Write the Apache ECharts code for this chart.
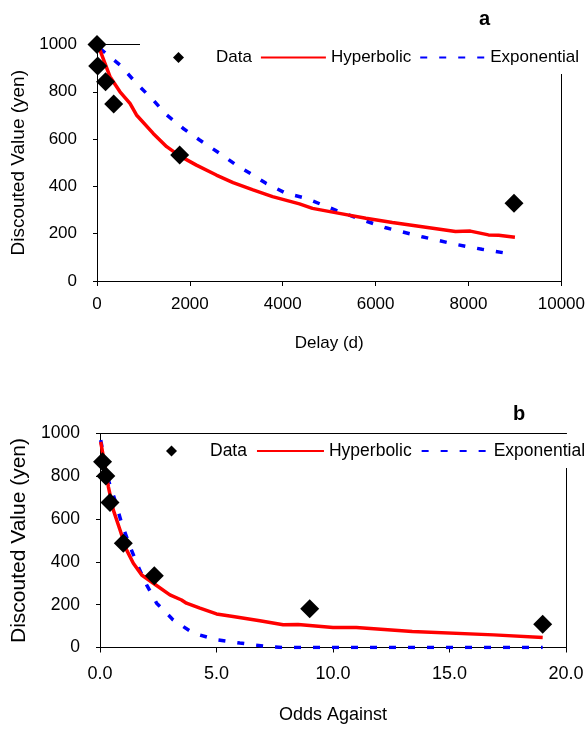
<!DOCTYPE html>
<html>
<head>
<meta charset="utf-8">
<script src="https://cdn.jsdelivr.net/npm/echarts@6/dist/echarts.min.js"></script>
<style>
  html, body { margin: 0; padding: 0; background: #fff; }
  #chart { width: 588px; height: 729px; }
</style>
</head>
<body>
<div id="chart"></div>
<script>
// panel a: delay (days) vs discounted value
const delayDays = [0, 15, 185, 360, 1780, 8980];
const delayValues = [1000, 909, 843, 748, 533, 329];
const delayHypX = [60, 280, 495, 710, 850, 1210, 1500, 1780, 2140, 2570, 2930, 3360, 3780, 4360, 4640, 5220, 5790, 6360, 7080, 7720, 8040, 8430, 8650, 9000];
const delayHypY = [978, 864, 800, 751, 702, 624, 568, 529, 490, 448, 416, 385, 357, 326, 307, 286, 265, 247, 227, 209, 211, 195, 193, 185];
const delayExpX = [60, 495, 850, 1210, 1500, 1850, 2210, 2640, 3000, 3360, 3640, 4070, 4500, 5220, 5720, 6220, 7000, 7720, 8290, 8830];
const delayExpY = [984, 913, 836, 765, 702, 646, 596, 540, 490, 448, 413, 371, 350, 293, 258, 225, 187, 155, 134, 117];

// panel b: odds against vs discounted value
const odds = [0.11, 0.25, 0.43, 1, 2.33, 9, 19];
const oddsValues = [868, 801, 677, 487, 335, 181, 109];
const oddsHypX = [0.03, 0.17, 0.36, 0.57, 0.86, 1.14, 1.43, 1.79, 2.29, 3.0, 3.5, 3.71, 4.29, 5.0, 5.71, 6.86, 7.86, 8.5, 10.0, 11.0, 13.4, 16.9, 19.0];
const oddsHypY = [961, 876, 751, 643, 549, 456, 394, 339, 300, 246, 222, 207, 184, 157, 145, 125, 106, 107, 93, 93, 75, 59, 47];
const oddsExpX = [0.03, 0.17, 0.36, 0.64, 0.93, 1.29, 1.64, 2.0, 2.43, 3.14, 4.0, 5.0, 6.0, 7.14, 7.86, 10, 15, 19.0];
const oddsExpY = [969, 891, 783, 689, 580, 471, 378, 293, 207, 129, 67, 36, 21, 5, 0, 0, 0, 0];

const legendNames = ['Data', 'Hyperbolic', 'Exponential'];
const font = '"Liberation Sans", Arial, sans-serif';

// small diamond centred in a wide empty box so the legend item keeps its full width
function diamondPath(w) {
  const h = w / 2;
  return `path://M-${h},0L-${h},0M${h},0L${h},0M0,-5.5L5.5,0L0,5.5L-5.5,0Z`;
}

const zip = (xs, ys) => xs.map((x, i) => [x, ys[i]]);

function mainXAxis(grid, max, interval, name, nameGap, fontSize, digits) {
  return {
    gridIndex: grid, type: 'value', min: 0, max: max, interval: interval,
    name: name, nameLocation: 'middle', nameGap: nameGap,
    nameTextStyle: { color: '#000', fontFamily: font, fontSize: fontSize },
    axisLine: { onZero: false, lineStyle: { color: '#000', width: 1 } },
    axisTick: { length: 5, lineStyle: { color: '#000' } },
    axisLabel: {
      color: '#000', fontFamily: font, fontSize: fontSize, margin: grid ? 18 : 15,
      formatter: v => v.toFixed(digits)
    },
    splitLine: { show: false }
  };
}

// top / right frame lines, partly hidden by the legend box
function borderAxis(grid, position, max) {
  return {
    gridIndex: grid, type: 'value', position: position, min: 0, max: max,
    axisLine: { show: true, onZero: false, lineStyle: { color: '#000', width: 1 } },
    axisTick: { show: false }, axisLabel: { show: false }, splitLine: { show: false }
  };
}

function mainYAxis(grid, nameSize, labelSize) {
  return {
    gridIndex: grid, type: 'value', min: 0, max: 1000, interval: 200,
    name: 'Discouted Value (yen)', nameLocation: 'middle', nameGap: 68,
    nameTextStyle: { color: '#000', fontFamily: font, fontSize: nameSize },
    axisLine: { show: true, onZero: false, lineStyle: { color: '#000', width: 1 } },
    axisTick: { show: true, length: 4, lineStyle: { color: '#000' } },
    axisLabel: { color: '#000', fontFamily: font, fontSize: labelSize, margin: 20, formatter: v => String(v) },
    splitLine: { show: false }
  };
}

function panelSeries(idx, px, py, hx, hy, ex, ey) {
  return [
    {
      name: 'Data', type: 'scatter', xAxisIndex: idx * 2, yAxisIndex: idx * 2,
      symbol: 'diamond', symbolSize: 19, z: 5,
      itemStyle: { color: '#000', opacity: 1 },
      data: zip(px, py)
    },
    {
      name: 'Hyperbolic', type: 'line', xAxisIndex: idx * 2, yAxisIndex: idx * 2,
      symbol: 'none', z: 3,
      lineStyle: { color: '#ff0000', width: 3.5 },
      itemStyle: { color: '#ff0000' },
      data: zip(hx, hy)
    },
    {
      name: 'Exponential', type: 'line', xAxisIndex: idx * 2, yAxisIndex: idx * 2,
      symbol: 'none', z: 2,
      lineStyle: { color: '#0000ff', width: 3.5, type: [7, 12] },
      itemStyle: { color: '#0000ff' },
      data: zip(ex, ey)
    }
  ];
}

function panelLegend(left, top, itemWidth, itemGap, fontSize) {
  return {
    left: left, top: top, width: 470, orient: 'horizontal',
    padding: [8, 6, 8, 6], backgroundColor: '#fff',
    itemWidth: itemWidth, itemHeight: 11, itemGap: itemGap,
    textStyle: { color: '#000', fontFamily: font, fontSize: fontSize },
    selectedMode: false,
    data: [
      { name: legendNames[0], icon: diamondPath(itemWidth), itemStyle: { color: '#000', opacity: 1 } },
      { name: legendNames[1], itemStyle: { opacity: 0 } },
      { name: legendNames[2], itemStyle: { opacity: 0 } }
    ]
  };
}

const chart = echarts.init(document.getElementById('chart'));

chart.setOption({
  animation: false,
  backgroundColor: '#fff',
  title: [
    { text: 'a', left: 479, top: 9, padding: 0, textStyle: { fontFamily: font, fontSize: 20, fontWeight: 'bold', color: '#000' } },
    { text: 'b', left: 513, top: 404, padding: 0, textStyle: { fontFamily: font, fontSize: 20, fontWeight: 'bold', color: '#000' } }
  ],
  legend: [
    panelLegend(140, 41, 65, 8, 17),
    panelLegend(132, 434, 67, 9, 17.5)
  ],
  grid: [
    { left: 97, top: 44.5, right: 25, bottom: 448 },
    { left: 100, top: 433.5, right: 22, bottom: 81.5 }
  ],
  xAxis: [
    mainXAxis(0, 10000, 2000, 'Delay (d)', 54, 17, 0),
    borderAxis(0, 'top', 10000),
    mainXAxis(1, 20, 5, 'Odds Against', 59, 18, 1),
    borderAxis(1, 'top', 20)
  ],
  yAxis: [
    mainYAxis(0, 19, 17),
    borderAxis(0, 'right', 1000),
    mainYAxis(1, 21, 17.5),
    borderAxis(1, 'right', 1000)
  ],
  series: [
    ...panelSeries(0, delayDays, delayValues, delayHypX, delayHypY, delayExpX, delayExpY),
    ...panelSeries(1, odds, oddsValues, oddsHypX, oddsHypY, oddsExpX, oddsExpY)
  ]
});
</script>
</body>
</html>
